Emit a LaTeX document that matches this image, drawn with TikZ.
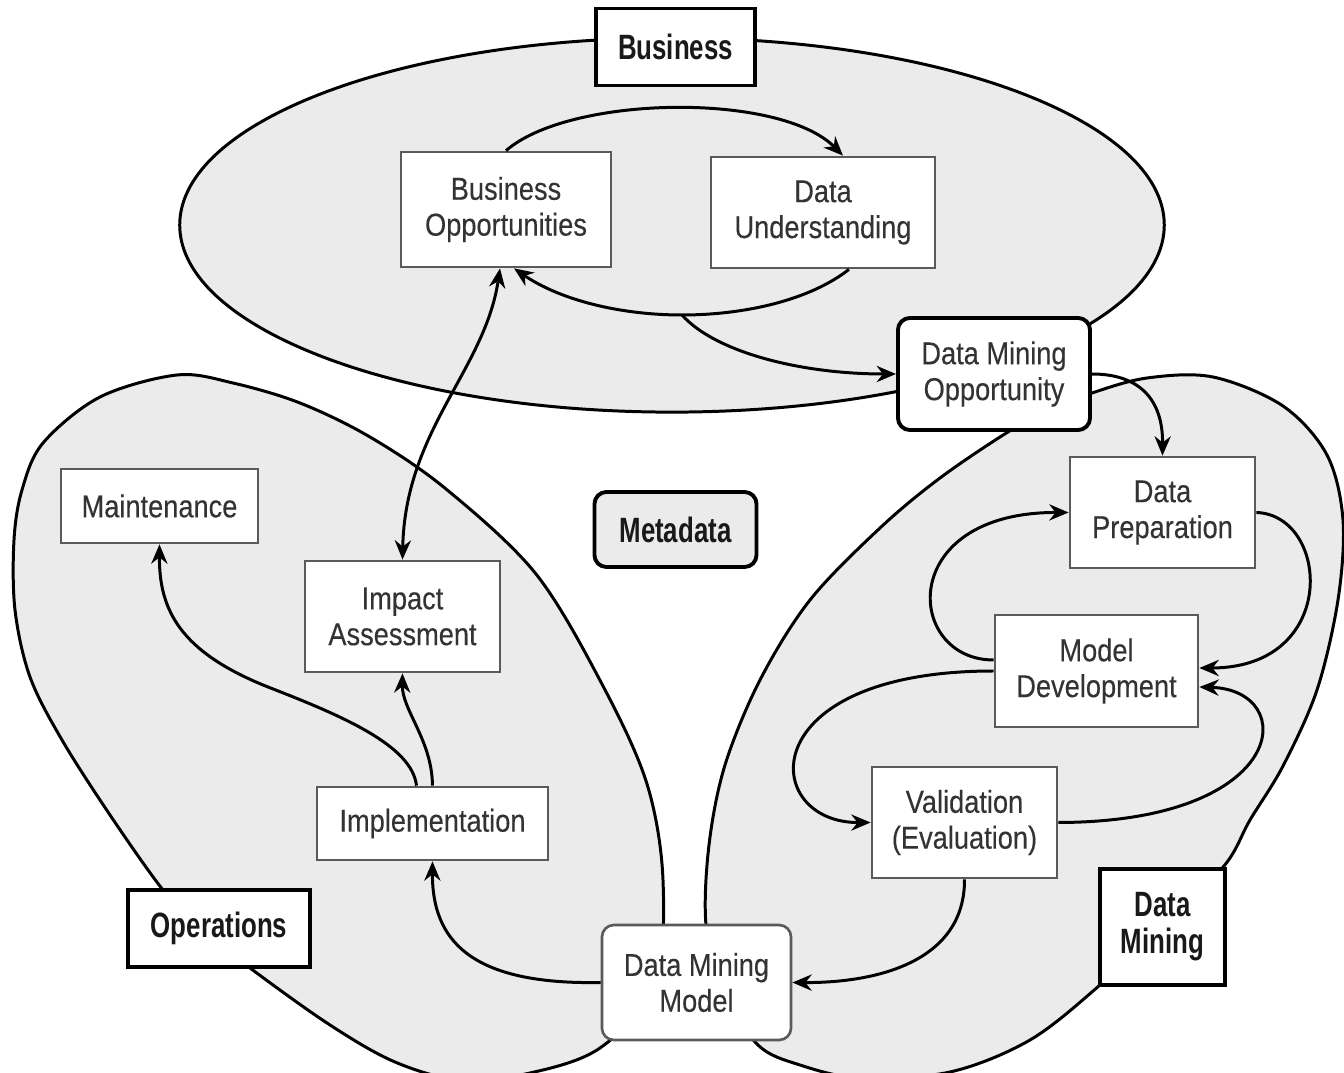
\documentclass[tikz,border=0pt]{standalone}
\usepackage{fontspec}
\usetikzlibrary{arrows.meta,calc}
\newfontfamily\boxfont{Liberation Sans}[FakeStretch=0.86,FakeBold=0.25]
\newfontfamily\headfont{Liberation Sans}[FakeStretch=0.735,BoldFeatures={FakeStretch=0.735}]
\definecolor{regiongray}{HTML}{EBEBEB}
\definecolor{boxline}{HTML}{5A5A5A}
\definecolor{boxtext}{HTML}{333333}
\tikzset{
  region/.style={fill=regiongray,draw=black,line width=0.85pt},
  stage/.style={draw=boxline,line width=0.75pt,fill=white,inner sep=0pt,align=center,
    text=boxtext,font=\boxfont\fontsize{9}{10.2}\selectfont},
  roundstage/.style={stage,rounded corners=1.2mm},
  areabox/.style={draw=black,line width=1.1pt,fill=white,inner sep=0pt,align=center,
    text=black!90,font=\headfont\bfseries\fontsize{10}{10.5}\selectfont},
  flow/.style={line width=0.85pt,-{Stealth[length=5.5pt,width=4.6pt]}},
  twoway/.style={line width=0.85pt,{Stealth[length=5.5pt,width=4.6pt]}-{Stealth[length=5.5pt,width=4.6pt]}}
}
\begin{document}
\begin{tikzpicture}[x=0.01cm,y=-0.01cm]
\useasboundingbox (0,0) rectangle (1344,1073);
% the three areas
\draw[region] (672,225) ellipse [x radius=4.92cm,y radius=1.87cm];
\draw[region] plot[smooth cycle,tension=0.55] coordinates {
 (177,375) (233,383) (300,403) (370,437) (446,489) (536,574) (603,686)
 (647,784) (663,880) (655,985) (600,1048) (530,1073) (460,1080)
 (395,1062) (330,1025) (250,968) (200,928) (163,890) (110,815)
 (62,740) (30,677) (15,610) (14,540) (22,490) (43,443) (100,397)};
\draw[region] plot[smooth cycle,tension=0.55] coordinates {
 (1092,393) (1147,378) (1213,377) (1283,406) (1327,455) (1343,520)
 (1338,600) (1317,690) (1283,766) (1250,820) (1224,866) (1162,926)
 (1100,985) (1030,1040) (950,1072) (860,1078) (800,1065) (758,1045)
 (722,990) (706,925) (709,845) (725,765) (760,680) (810,600) (880,528)
 (940,478) (1008,432) (1050,410)};
% boxes
\node[areabox,minimum width=1.59cm,minimum height=0.77cm] (biz) at (675.5,47) {Business};
\node[stage,minimum width=2.10cm,minimum height=1.15cm] (bo) at (506,209.5) {Business\\Opportunities};
\node[stage,minimum width=2.24cm,minimum height=1.11cm] (du) at (823,212.5) {Data\\Understanding};
\node[roundstage,draw=black,line width=1.1pt,minimum width=1.92cm,minimum height=1.12cm] (dmo) at (994,374) {Data Mining\\Opportunity};
\node[stage,minimum width=1.85cm,minimum height=1.11cm] (dp) at (1162.5,512.5) {Data\\Preparation};
\node[areabox,rounded corners=1.2mm,fill=regiongray,minimum width=1.62cm,minimum height=0.75cm] (meta) at (675.5,529.5) {Metadata};
\node[stage,minimum width=1.97cm,minimum height=0.74cm] (mnt) at (159.5,506) {Maintenance};
\node[stage,minimum width=1.95cm,minimum height=1.11cm] (ia) at (402.5,616.5) {Impact\\Assessment};
\node[stage,minimum width=2.03cm,minimum height=1.12cm] (md) at (1096.5,671) {Model\\Development};
\node[stage,minimum width=2.31cm,minimum height=0.73cm] (impl) at (432.5,823.5) {Implementation};
\node[stage,minimum width=1.85cm,minimum height=1.11cm] (val) at (964.5,822.5) {Validation\\(Evaluation)};
\node[areabox,minimum width=1.82cm,minimum height=0.77cm] (ops) at (219,928.5) {Operations};
\node[areabox,minimum width=1.25cm,minimum height=1.16cm] (dmn) at (1162.5,927) {Data\\Mining};
\node[roundstage,minimum width=1.89cm,minimum height=1.15cm] (dmm) at (696.5,982.5) {Data Mining\\Model};
% connectors
\coordinate (dip) at (682,315);
\draw[flow] (bo.north) .. controls (570,95) and (780,92) .. ($(du.north)+(20,0)$);
\draw[flow] ($(du.south)+(26,0)$) .. controls (810,300) and (745,315) .. (dip)
 .. controls (620,315) and (560,300) .. ($(bo.south)+(8,0)$);
\draw[flow] (dip) .. controls (715,352) and (800,374) .. (dmo.west);
\draw[twoway] ($(bo.south)+(-6,0)$) .. controls (485,370) and (405,430) .. (ia.north);
\draw[flow] (dmo.east) .. controls (1140,374) and (1163,400) .. (dp.north);
\draw[flow] ($(md.west)+(0,-11)$) .. controls (905,660) and (895,512) .. (dp.west);
\draw[flow] (dp.east) .. controls (1330,515) and (1340,668) .. ($(md.east)+(0,-3)$);
\draw[flow] (md.west) .. controls (750,671) and (760,823) .. (val.west);
\draw[flow] (val.east) .. controls (1290,822) and (1300,690) .. ($(md.east)+(0,16)$);
\draw[flow] (val.south) .. controls (965,960) and (880,983) .. (dmm.east);
\draw[flow] (dmm.west) .. controls (470,985) and (432,940) .. (impl.south);
\draw[flow] (impl.north) .. controls (432,740) and (402,710) .. (ia.south);
\draw[flow] ($(impl.north)+(-16,0)$) .. controls (412,745) and (340,715) .. (268,687)
 .. controls (180,652) and (159,610) .. (mnt.south);
\end{tikzpicture}
\end{document}
